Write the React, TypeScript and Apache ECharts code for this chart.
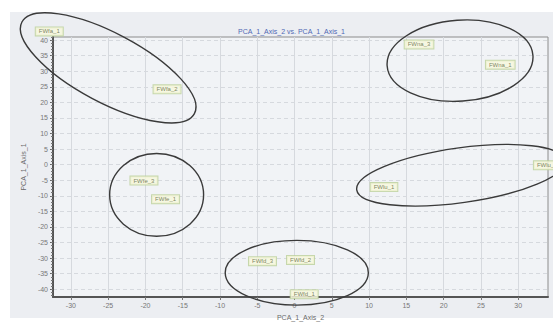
import React, { useEffect, useRef } from "react";
import * as echarts from "echarts";

const pointNames = ["FWfa_1", "FWfa_2", "FWna_3", "FWna_1", "FWfe_3", "FWfe_1", "FWlu_1", "FWlu_2", "FWfd_3", "FWfd_2", "FWfd_1"];
const axis2Values = [-32.9, -17.1, 16.7, 27.6, -20.2, -17.3, 12.0, 33.9, -4.3, 0.8, 1.3];
const axis1Values = [42.8, 24.2, 38.6, 32.1, -5.1, -11.1, -7.2, -0.2, -31.0, -30.6, -41.6];

// ellipse groups: center (axis2, axis1), half-widths (axis2 units, axis1 units), tilt in degrees
const ellipseCx = [-25.0, 22.2, -18.5, 22.3, 0.3];
const ellipseCy = [31.1, 33.4, -9.7, -3.4, -34.7];
const ellipseRx = [13.1, 9.8, 6.3, 14.1, 9.6];
const ellipseRy = [11.1, 13.0, 13.3, 8.8, 10.4];
const ellipseTilt = [-28, 4, 0, 8, 0];

const xTicks = [-30, -25, -20, -15, -10, -5, 0, 5, 10, 15, 20, 25, 30];
const yTicks = [-40, -35, -30, -25, -20, -15, -10, -5, 0, 5, 10, 15, 20, 25, 30, 35, 40];
const yMinorTicks = Array.from({ length: 84 }, (_, i) => -42 + i);

const FONT = "'Liberation Sans', 'DejaVu Sans', sans-serif";

export default function App() {
  const ref = useRef<HTMLDivElement>(null);
  useEffect(() => {
    if (!ref.current) return;
    const chart = echarts.init(ref.current, null, { renderer: "svg" });
    const points = pointNames.map((n, i) => ({ name: n, value: [axis2Values[i], axis1Values[i]] }));
    const ellipses = ellipseCx.map((c, i) => [c, ellipseCy[i], ellipseRx[i], ellipseRy[i], ellipseTilt[i]]);
    chart.setOption({
      animation: false,
      backgroundColor: "#ffffff",
      textStyle: { fontFamily: FONT },
      graphic: [
        {
          type: "rect",
          z: -10,
          shape: { x: 10, y: 12, width: 543, height: 306 },
          style: { fill: "#eceef2" },
          silent: true,
        },
      ],
      title: {
        text: "PCA_1_Axis_2 vs. PCA_1_Axis_1",
        left: 233,
        top: 23,
        textStyle: { fontSize: 7, color: "#4f68b4", fontWeight: "normal", fontFamily: FONT },
      },
      grid: {
        left: 53,
        right: 5,
        top: 37,
        bottom: 25,
        show: true,
        backgroundColor: "#f1f3f6",
        borderColor: "#8c8c8c",
        borderWidth: 1,
      },
      xAxis: {
        type: "value",
        min: -32.4,
        max: 34,
        name: "PCA_1_Axis_2",
        nameLocation: "middle",
        nameGap: 17,
        nameTextStyle: { fontSize: 7, color: "#6a6a6a", fontFamily: FONT },
        axisLine: { show: true, onZero: false, lineStyle: { color: "#555", width: 2 } },
        axisTick: { show: true, customValues: xTicks, length: 3, lineStyle: { color: "#777" } },
        axisLabel: { customValues: xTicks, fontSize: 7, color: "#777", margin: 5, fontFamily: FONT },
        splitLine: { show: true, lineStyle: { color: "#d6d9de", width: 1 } },
      },
      yAxis: [
        {
          type: "value",
          min: -42.5,
          max: 41,
          name: "PCA_1_Axis_1",
          nameLocation: "middle",
          nameGap: 19,
          nameTextStyle: { fontSize: 7, color: "#6a6a6a", fontFamily: FONT },
          axisLine: { show: true, onZero: false, lineStyle: { color: "#555", width: 2 } },
          axisTick: { show: true, customValues: yTicks, length: 3, lineStyle: { color: "#666" } },
          axisLabel: { customValues: yTicks, fontSize: 7, color: "#777", margin: 5, fontFamily: FONT },
          splitLine: { show: true, lineStyle: { color: "#d6d9de", width: 1, type: [4, 3] } },
        },
        {
          type: "value",
          min: -42.5,
          max: 41,
          position: "left",
          axisLine: { show: false, onZero: false },
          axisTick: { show: true, customValues: yMinorTicks, length: 2, lineStyle: { color: "#777" } },
          axisLabel: { show: false },
          splitLine: { show: false },
        },
      ],
      series: [
        {
          type: "custom",
          clip: false,
          silent: true,
          z: 3,
          encode: { x: 0, y: 1 },
          data: ellipses,
          renderItem: (params: any, api: any) => {
            const c = api.coord([api.value(0), api.value(1)]);
            const rx = api.size([api.value(2), 0])[0];
            const ry = api.size([0, api.value(3)])[1];
            return {
              type: "ellipse",
              x: c[0],
              y: c[1],
              rotation: (api.value(4) * Math.PI) / 180,
              shape: { cx: 0, cy: 0, rx, ry },
              style: { fill: "none", stroke: "#3a3a3a", lineWidth: 1.4 },
            };
          },
        },
        {
          type: "scatter",
          clip: false,
          symbolSize: 0,
          z: 4,
          data: points,
          label: {
            show: true,
            position: "inside",
            formatter: "{b}",
            fontSize: 6,
            color: "#5c6640",
            fontFamily: FONT,
            backgroundColor: "#f7f8dc",
            borderColor: "#bcd09a",
            borderWidth: 1,
            padding: [1, 3],
          },
        },
      ],
    });
    return () => chart.dispose();
  }, []);
  return <div ref={ref} style={{ position: "absolute", left: 0, top: 0, width: 553, height: 326 }} />;
}
